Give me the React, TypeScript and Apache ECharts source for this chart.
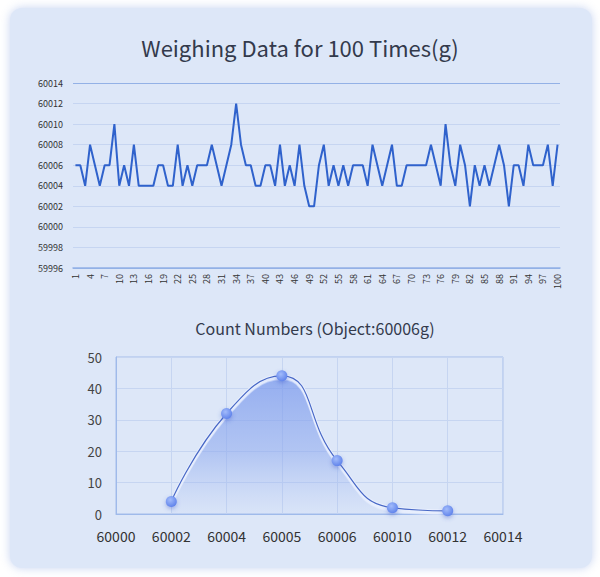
import React, { useEffect, useRef } from "react";
import * as echarts from "echarts";

const weighIndex: string[] = Array.from({ length: 100 }, (_, i) => String(i + 1));
const weighValues: number[] = [
  60006, 60006, 60004, 60008, 60006, 60004, 60006, 60006, 60010, 60004,
  60006, 60004, 60008, 60004, 60004, 60004, 60004, 60006, 60006, 60004,
  60004, 60008, 60004, 60006, 60004, 60006, 60006, 60006, 60008, 60006,
  60004, 60006, 60008, 60012, 60008, 60006, 60006, 60004, 60004, 60006,
  60006, 60004, 60008, 60004, 60006, 60004, 60008, 60004, 60002, 60002,
  60006, 60008, 60004, 60006, 60004, 60006, 60004, 60006, 60006, 60006,
  60004, 60008, 60006, 60004, 60006, 60008, 60004, 60004, 60006, 60006,
  60006, 60006, 60006, 60008, 60006, 60004, 60010, 60006, 60004, 60008,
  60006, 60002, 60006, 60004, 60006, 60004, 60006, 60008, 60006, 60002,
  60006, 60006, 60004, 60008, 60006, 60006, 60006, 60008, 60004, 60008,
];

const countCategories: string[] = ["60000", "60002", "60004", "60005", "60006", "60010", "60012", "60014"];
const countValues: (number | null)[] = [null, 4, 32, 44, 17, 2, 1, null];

const FONT = "'Noto Sans CJK SC', 'Noto Sans', sans-serif";

export default function App() {
  const ref = useRef<HTMLDivElement>(null);
  useEffect(() => {
    if (!ref.current) return;
    const chart = echarts.init(ref.current, null, { renderer: "svg" });
    const lightGrid = "#c6d5f1";
    const darkGrid = "#93b1e6";
    const band = "rgba(234,240,254,0.95)";
    chart.setOption({
      animation: false,
      textStyle: { fontFamily: FONT },
      title: [
        {
          text: "Weighing Data for 100 Times(g)",
          left: "center",
          top: 31,
          textStyle: { fontSize: 22, fontWeight: "normal", color: "#333a4c", fontFamily: FONT },
        },
        {
          text: "Count Numbers (Object:60006g)",
          left: 310,
          textAlign: "center",
          top: 315,
          textStyle: { fontSize: 16, fontWeight: "normal", color: "#333a4c", fontFamily: FONT },
        },
      ],
      grid: [
        { left: 73, right: 40, top: 83, height: 185 },
        {
          left: 116, right: 97, top: 357, height: 157,
          show: true, borderColor: "#a4bdea", borderWidth: 1, backgroundColor: "transparent",
        },
      ],
      xAxis: [
        {
          type: "category",
          gridIndex: 0,
          data: weighIndex,
          boundaryGap: true,
          axisLine: { show: true, lineStyle: { color: darkGrid, width: 1.5 } },
          axisTick: { show: false },
          axisLabel: { rotate: 90, interval: 2, fontSize: 9, color: "#333", margin: 6, fontFamily: FONT },
          splitLine: { show: false },
        },
        {
          type: "category",
          gridIndex: 1,
          data: countCategories,
          boundaryGap: false,
          axisLine: { show: true, lineStyle: { color: "#9fbaea" } },
          axisTick: { show: false },
          axisLabel: { fontSize: 14, color: "#333", margin: 15, fontFamily: FONT },
          splitLine: { show: true, lineStyle: { color: lightGrid } },
        },
      ],
      yAxis: [
        {
          type: "value",
          gridIndex: 0,
          min: 59996,
          max: 60014,
          interval: 2,
          axisLine: { show: false },
          axisTick: { show: false },
          axisLabel: {
            fontSize: 9,
            color: "#333",
            margin: 10,
            fontFamily: FONT,
            formatter: (v: number) => String(v),
          },
          splitLine: {
            show: true,
            lineStyle: {
              color: [darkGrid, lightGrid, lightGrid, lightGrid, lightGrid, lightGrid, lightGrid, lightGrid, lightGrid],
              width: 1,
            },
          },
        },
        {
          type: "value",
          gridIndex: 1,
          min: 0,
          max: 50,
          interval: 10,
          axisLine: { show: true, lineStyle: { color: "#9fbaea" } },
          axisTick: { show: false },
          axisLabel: { fontSize: 13, color: "#444", margin: 14, fontFamily: FONT },
          splitLine: { show: true, lineStyle: { color: lightGrid } },
        },
      ],
      series: [
        {
          type: "line",
          xAxisIndex: 0,
          yAxisIndex: 0,
          data: weighValues,
          showSymbol: false,
          symbol: "none",
          lineStyle: { color: "#2f62cc", width: 2 },
        },
        {
          type: "line",
          xAxisIndex: 1,
          yAxisIndex: 1,
          data: countValues,
          smooth: true,
          symbol: "none",
          lineStyle: { width: 0, opacity: 0 },
          areaStyle: {
            color: new echarts.graphic.LinearGradient(0, 0, 0, 1, [
              { offset: 0, color: "rgba(116,148,236,1)" },
              { offset: 0.55, color: "rgba(138,166,238,0.75)" },
              { offset: 1, color: "rgba(160,184,242,0.1)" },
            ]),
          },
          z: 2,
        },
        {
          type: "line",
          xAxisIndex: 1,
          yAxisIndex: 1,
          data: countValues,
          smooth: true,
          symbol: "none",
          silent: true,
          lineStyle: {
            color: band,
            width: 3,
            shadowColor: band,
            shadowBlur: 1,
            shadowOffsetY: 2.5,
          },
          z: 3,
        },
        {
          type: "line",
          xAxisIndex: 1,
          yAxisIndex: 1,
          data: countValues,
          smooth: true,
          symbol: "circle",
          symbolSize: 11,
          lineStyle: { color: "#4868c6", width: 1.2 },
          itemStyle: {
            color: new echarts.graphic.RadialGradient(0.4, 0.35, 0.7, [
              { offset: 0, color: "#a2bbfb" },
              { offset: 1, color: "#5c80ea" },
            ]),
            shadowColor: "rgba(60,90,200,0.4)",
            shadowBlur: 4,
            shadowOffsetY: 2,
          },
          z: 4,
        },
      ],
    });
    return () => chart.dispose();
  }, []);

  return (
    <div style={{ position: "fixed", left: 0, top: 0, width: 600, height: 577, background: "#ffffff" }}>
      <div
        style={{
          position: "absolute",
          left: 10,
          top: 8,
          width: 582,
          height: 560,
          borderRadius: 12,
          background: "#dde7f8",
          boxShadow: "0 0 10px rgba(130,160,225,0.45)",
        }}
      />
      <div ref={ref} style={{ position: "absolute", left: 0, top: 0, width: 600, height: 577 }} />
    </div>
  );
}
